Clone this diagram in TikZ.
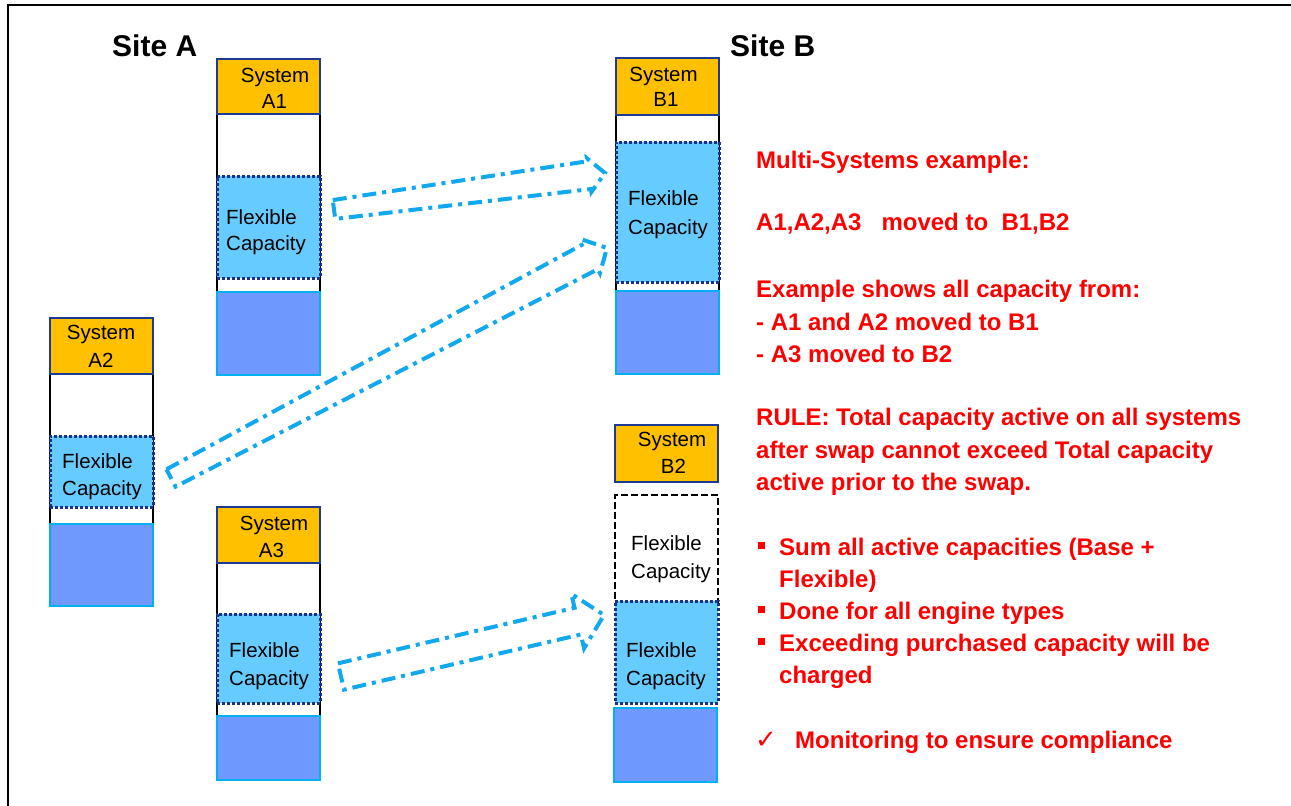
\documentclass[tikz,border=0pt]{standalone}
\usepackage{fontspec}
\setmainfont{Liberation Sans}
\newfontfamily\symfont{DejaVu Sans}
\usetikzlibrary{calc,backgrounds}

\definecolor{sysorange}{HTML}{FFC000}
\definecolor{hdrblue}{HTML}{1F3A93}
\definecolor{flexfill}{HTML}{66CCFF}
\definecolor{flexline}{HTML}{1A318C}
\definecolor{basefill}{HTML}{7099FF}
\definecolor{baseedge}{HTML}{00B0F0}
\definecolor{arrowblue}{HTML}{12A8EE}
\definecolor{notered}{HTML}{FF0000}

% hollow dash-dot block arrow: name, tail, tip, tail half-width,
% shaft half-width at the head, head half-width, head length
\newcommand\flexarrow[7]{%
  \coordinate (#1-hb) at ($(#3)!#7!(#2)$);
  \draw[flowarrow] ($(#2)!#4!90:(#3)$) -- ($(#1-hb)!#5!90:(#3)$)
    -- ($(#1-hb)!#6!90:(#3)$) -- (#3) -- ($(#1-hb)!#6!-90:(#3)$)
    -- ($(#1-hb)!#5!-90:(#3)$) -- ($(#2)!#4!-90:(#3)$) -- cycle;
}

\tikzset{
  box/.style={inner sep=0pt, outer sep=0pt, anchor=north west},
  hdr/.style={box, draw=hdrblue, fill=sysorange, line width=2.3pt},
  flex/.style={box, draw=flexline, fill=flexfill, line width=3pt, dash pattern=on 3pt off 2pt},
  basebox/.style={box, draw=baseedge, fill=basefill, line width=2.5pt},
  reserve/.style={box, draw=black, fill=white, line width=2.5pt, dash pattern=on 7pt off 3pt},
  bodyline/.style={draw=black, line width=2pt},
  flowarrow/.style={draw=arrowblue, line width=4pt, dash pattern=on 14pt off 6pt on 4pt off 6pt},
  lbl/.style={font=\fontsize{20.5}{25}\selectfont, inner sep=0pt, anchor=base west},
  clbl/.style={lbl, anchor=base},
  sitehead/.style={font=\fontsize{30}{36}\selectfont\bfseries, inner sep=0pt, anchor=base west},
  note/.style={font=\fontsize{24}{29}\selectfont\bfseries, text=notered, inner sep=0pt, anchor=base west},
  bulletsq/.style={fill=notered, inner sep=0pt, minimum size=7pt},
}

\begin{document}
\begin{tikzpicture}[x=1pt, y=-1pt]
\useasboundingbox (0,0) rectangle (1291,806);

% frame
\draw[line width=2pt] (8,806) -- (8,5) -- (1291,5);

% site titles
\node[sitehead] (siteA) at (112,56) {Site A};
\node[sitehead] (siteB) at (730,56) {Site B};

% ---- System A1
\node[flex, minimum width=103pt, minimum height=102pt] (a1f) at (217,176) {};
\node[basebox, minimum width=103pt, minimum height=83pt] (a1b) at (217,292) {};
\node[hdr, minimum width=103pt, minimum height=55pt] (a1h) at (217,59) {};
\node[clbl] (a1t1) at (275,82) {System};
\node[clbl] (a1t2) at (274.5,108) {A1};
\node[lbl] (a1f1) at (226,224) {Flexible};
\node[lbl] (a1f2) at (226,250) {Capacity};

% ---- System A2
\node[flex, minimum width=103pt, minimum height=71pt] (a2f) at (50,436) {};
\node[basebox, minimum width=103pt, minimum height=82pt] (a2b) at (50,524) {};
\node[hdr, minimum width=103pt, minimum height=56pt] (a2h) at (50,318) {};
\node[clbl] (a2t1) at (101,339) {System};
\node[clbl] (a2t2) at (101,367) {A2};
\node[lbl] (a2f1) at (62,468) {Flexible};
\node[lbl] (a2f2) at (62,495) {Capacity};

% ---- System A3
\node[flex, minimum width=103pt, minimum height=89pt] (a3f) at (217,614) {};
\node[basebox, minimum width=103pt, minimum height=64pt] (a3b) at (217,716) {};
\node[hdr, minimum width=103pt, minimum height=56pt] (a3h) at (217,507) {};
\node[clbl] (a3t1) at (274,530) {System};
\node[clbl] (a3t2) at (271.5,557) {A3};
\node[lbl] (a3f1) at (229,657.5) {Flexible};
\node[lbl] (a3f2) at (229,685.5) {Capacity};

% ---- System B1
\node[flex, minimum width=103pt, minimum height=140pt] (b1f) at (616,142) {};
\node[basebox, minimum width=103pt, minimum height=83pt] (b1b) at (616,291) {};
\node[hdr, minimum width=103pt, minimum height=57pt] (b1h) at (616,58) {};
\node[clbl] (b1t1) at (663.5,81) {System};
\node[clbl] (b1t2) at (666,106) {B1};
\node[lbl] (b1f1) at (628,205) {Flexible};
\node[lbl] (b1f2) at (628,234) {Capacity};

% ---- System B2
\node[reserve, minimum width=103pt, minimum height=107pt] (b2r) at (615,495) {};
\node[flex, minimum width=103pt, minimum height=102pt] (b2f) at (615,601) {};
\node[basebox, minimum width=103pt, minimum height=74pt] (b2b) at (614,708) {};
\node[hdr, minimum width=103pt, minimum height=57pt] (b2h) at (615,425) {};
\node[clbl] (b2t1) at (672,446) {System};
\node[clbl] (b2t2) at (673.5,473) {B2};
\node[lbl] (b2r1) at (631,550) {Flexible};
\node[lbl] (b2r2) at (631,578) {Capacity};
\node[lbl] (b2f1) at (626,657) {Flexible};
\node[lbl] (b2f2) at (626,685) {Capacity};

% column sides between header and base
\begin{pgfonlayer}{background}
  \foreach \s in {a1,a2,a3,b1} {
    \draw[bodyline] (\s h.south west) -- (\s b.north west);
    \draw[bodyline] (\s h.south east) -- (\s b.north east);
  }
\end{pgfonlayer}

% capacity moves
\coordinate (a1tail) at (334,209.5);
\coordinate (b1tip)  at (605,173);
\coordinate (a2tail) at (171,478);
\coordinate (b1tipb) at (607,248);
\coordinate (a3tail) at (341,676.5);
\coordinate (b2tip)  at (604,615);
\flexarrow{fa}{a1tail}{b1tip}{9.5pt}{14pt}{17pt}{16pt}
\flexarrow{fb}{a2tail}{b1tipb}{9.8pt}{14.5pt}{19pt}{18pt}
\flexarrow{fc}{a3tail}{b2tip}{13.5pt}{13.7pt}{28pt}{27pt}

% notes
\node[note] (n1)  at (756,168) {Multi-Systems example:};
\node[note] (n2)  at (756,230) {A1,A2,A3\ \ \ moved to\ \ B1,B2};
\node[note] (n3)  at (756,297) {Example shows all capacity from:};
\node[note] (n4)  at (756,330) {- A1 and A2 moved to B1};
\node[note] (n5)  at (756,362) {- A3 moved to B2};
\node[note] (n6)  at (756,425) {RULE: Total capacity active on all systems};
\node[note] (n7)  at (756,458) {after swap cannot exceed Total capacity};
\node[note] (n8)  at (756,490) {active prior to the swap.};
\node[bulletsq] (bl1) at (761,545.5) {};
\node[note] (n9)  at (779,555) {Sum all active capacities (Base +};
\node[note] (n10) at (779,587) {Flexible)};
\node[bulletsq] (bl2) at (761,609.5) {};
\node[note] (n11) at (779,619) {Done for all engine types};
\node[bulletsq] (bl3) at (761,641.5) {};
\node[note] (n12) at (779,651) {Exceeding purchased capacity will be};
\node[note] (n13) at (779,683) {charged};
\node[note, font=\fontsize{26}{30}\symfont] (chk) at (755,748) {✓};
\node[note] (n14) at (795,748) {Monitoring to ensure compliance};
\end{tikzpicture}
\end{document}
